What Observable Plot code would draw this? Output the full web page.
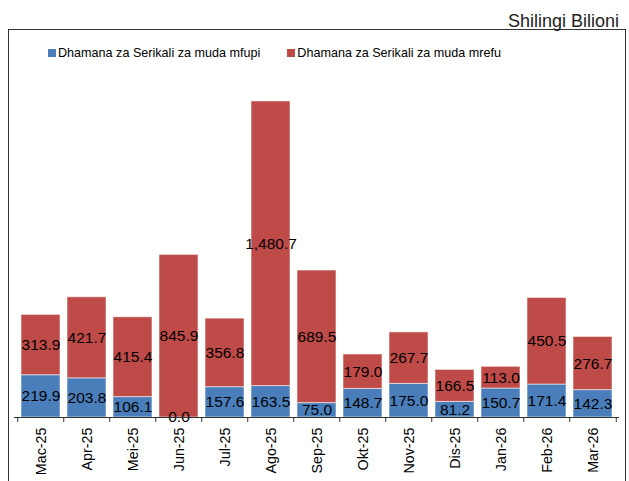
<!DOCTYPE html>
<html>
<head>
<meta charset="utf-8">
<script src="https://cdn.jsdelivr.net/npm/d3@7"></script>
<script src="https://cdn.jsdelivr.net/npm/@observablehq/plot@0.6"></script>
<style>
  html, body { margin: 0; padding: 0; background: #fff; }
  body { width: 629px; height: 481px; position: relative; overflow: hidden;
         font-family: "Liberation Sans", Arial, Helvetica, sans-serif; }
  #unit { position: absolute; right: 10px; top: 12px; font-size: 18px; line-height: 18px; color: #222; }
  #box { position: absolute; left: 8px; top: 29px; width: 618px; height: 470px;
         border: 1.5px solid #333; border-bottom: none; box-sizing: border-box; }
  #legend { position: absolute; left: 48px; top: 36px; }
  #chart { position: absolute; left: 0; top: 0; }
  .lg-swatch { margin-right: 27px !important; font-size: 12.6px; color: #000; }
  .lg-swatch > svg { margin-right: 2px !important; }
</style>
</head>
<body>
<div id="box"></div>
<div id="unit">Shilingi Bilioni</div>
<div id="chart"></div>
<div id="legend"></div>
<script>
const months = ["Mac-25","Apr-25","Mei-25","Jun-25","Jul-25","Ago-25","Sep-25","Okt-25","Nov-25","Dis-25","Jan-26","Feb-26","Mar-26"];
const shortTerm = [219.9,203.8,106.1,0.0,157.6,163.5,75.0,148.7,175.0,81.2,150.7,171.4,142.3];
const longTerm = [313.9,421.7,415.4,845.9,356.8,1480.7,689.5,179.0,267.7,166.5,113.0,450.5,276.7];
const seriesNames = ["Dhamana za Serikali za muda mfupi","Dhamana za Serikali za muda mrefu"];
const seriesColors = ["#4a7ebb","#be4b48"];

const data = months.flatMap((m, i) => [
  {month: m, series: seriesNames[0], value: shortTerm[i]},
  {month: m, series: seriesNames[1], value: longTerm[i]}
]);

const W = 629, H = 481, ML = 14, MR = 10, MT = 71, MB = 64;
const step = (W - ML - MR) / months.length;
const fmt = d3.format(",.1f");
const font = '"Liberation Sans", Arial, Helvetica, sans-serif';

const chart = Plot.plot({
  width: W, height: H,
  marginLeft: ML, marginRight: MR, marginTop: MT, marginBottom: MB,
  x: {domain: months, paddingInner: 0.16, paddingOuter: 0.08, label: null},
  y: {domain: [0, 1800], axis: null},
  color: {domain: seriesNames, range: seriesColors},
  style: {fontFamily: font, fontSize: "14px", background: "transparent", color: "#000"},
  marks: [
    Plot.barY(data, {x: "month", y: "value", fill: "series", z: "series",
      stroke: "white", strokeOpacity: 0.55, strokeWidth: 1}),
    Plot.text(data, Plot.stackY({x: "month", y: "value", z: "series",
      text: d => fmt(d.value), fontSize: 15.5, fill: "#000"})),
    Plot.ruleY([0], {stroke: "#333", strokeWidth: 1.2}),
    Plot.ruleX(months, {x: d => d, dx: -step / 2, y1: 0, y2: 0, insetTop: 5, stroke: "#333"}),
    Plot.ruleX([months[months.length - 1]], {x: d => d, dx: step / 2, y1: 0, y2: 0, insetTop: 5, stroke: "#333"}),
    Plot.axisX({tickRotate: -90, tickSize: 0, tickPadding: 10, fontSize: 14.3, label: null, fill: "#000"})
  ]
});
document.getElementById("chart").appendChild(chart);

const legend = Plot.legend({
  color: {domain: seriesNames, range: seriesColors},
  swatchSize: 8, className: "lg",
  style: {fontFamily: font, fontSize: "12.6px", color: "#000"}
});
document.getElementById("legend").appendChild(legend);
</script>
</body>
</html>
